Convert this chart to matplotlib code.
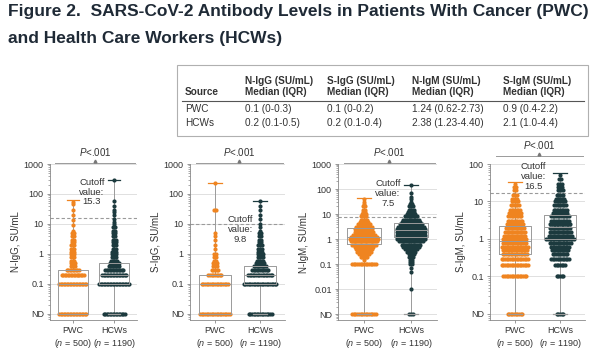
import numpy as np
import matplotlib.pyplot as plt
from matplotlib.patches import Rectangle

plt.rcParams['font.family'] = ['Liberation Sans', 'DejaVu Sans']
plt.rcParams['mathtext.fontset'] = 'custom'
plt.rcParams['mathtext.it'] = 'Liberation Sans:italic'
plt.rcParams['mathtext.rm'] = 'Liberation Sans'

ORANGE = '#ef8420'
DARK = '#1c3a3e'
TXT = '#333333'

groups = ['PWC', 'HCWs']
group_n = [500, 1190]

# swarm rows: value (0 = not detected) and dots in that row
nigg_pwc_vals = [0, 0.1, 0.2, 0.3, 0.4, 0.5, 0.6, 0.8, 1, 1.2, 1.5, 2, 2.5, 3, 4, 5, 6, 9, 14, 20, 30, 45, 56]
nigg_pwc_dots = [19, 19, 16, 9, 4, 4, 3, 3, 3, 3, 3, 3, 2, 2, 2, 2, 1, 1, 1, 1, 1, 1, 1]
nigg_hcw_vals = [0, 0.1, 0.2, 0.3, 0.4, 0.5, 0.6, 0.8, 1, 1.2, 1.5, 2, 2.5, 3, 4, 5, 6, 8, 10, 12, 15, 20, 25, 30, 40, 60, 300]
nigg_hcw_dots = [15, 21, 17, 13, 8, 7, 5, 4, 4, 4, 3, 3, 3, 3, 2, 2, 2, 2, 1, 1, 1, 1, 1, 1, 1, 1, 1]

sigg_pwc_vals = [0, 0.1, 0.2, 0.3, 0.4, 0.5, 0.6, 0.8, 1, 1.5, 2, 3, 4, 5, 30, 230]
sigg_pwc_dots = [19, 17, 9, 5, 3, 3, 2, 2, 2, 1, 1, 1, 1, 1, 2, 1]
sigg_hcw_vals = [0, 0.1, 0.2, 0.3, 0.4, 0.5, 0.6, 0.8, 1, 1.2, 1.5, 2, 2.5, 3, 4, 5, 6, 8, 10, 15, 20, 30, 40, 60]
sigg_hcw_dots = [15, 21, 16, 11, 8, 6, 5, 4, 4, 3, 3, 3, 2, 2, 2, 2, 1, 1, 1, 1, 1, 1, 1, 1]

nigm_pwc_vals = [0, 0.1, 0.15, 0.2, 0.25, 0.3, 0.4, 0.5, 0.6, 0.8, 1, 1.2, 1.5, 2, 2.5, 3, 4, 5, 6, 8, 10, 12, 15, 20, 25, 30, 40]
nigm_pwc_dots = [15, 15, 1, 5, 7, 9, 10, 12, 15, 16, 17, 16, 14, 12, 11, 10, 8, 6, 5, 4, 3, 2, 2, 2, 1, 1, 1]
nigm_hcw_vals = [0, 0.01, 0.05, 0.07, 0.1, 0.12, 0.15, 0.2, 0.25, 0.3, 0.4, 0.5, 0.6, 0.8, 1, 1.2, 1.5, 2, 2.5, 3, 4, 5, 6, 8, 10, 12, 15, 20, 25, 30, 40, 50, 70, 140]
nigm_hcw_dots = [3, 1, 1, 1, 2, 2, 2, 3, 4, 6, 8, 10, 12, 15, 17, 18, 18, 18, 17, 16, 14, 12, 10, 8, 6, 5, 4, 3, 2, 1, 1, 1, 1, 1]

sigm_pwc_vals = [0, 0.1, 0.2, 0.3, 0.4, 0.5, 0.6, 0.8, 1, 1.2, 1.5, 2, 2.5, 3, 4, 5, 6, 8, 10, 12, 15, 20, 25, 30]
sigm_pwc_dots = [10, 15, 17, 17, 16, 16, 17, 15, 15, 14, 13, 12, 11, 10, 9, 8, 7, 6, 5, 4, 3, 2, 2, 1]
sigm_hcw_vals = [0, 0.1, 0.2, 0.3, 0.4, 0.5, 0.6, 0.8, 1, 1.2, 1.5, 2, 2.5, 3, 4, 5, 6, 8, 10, 12, 15, 20, 25, 30, 40, 50]
sigm_hcw_dots = [5, 5, 7, 12, 10, 11, 12, 14, 18, 15, 14, 13, 13, 12, 12, 10, 9, 8, 7, 6, 5, 4, 3, 3, 2, 1]

# medians / IQR from the table, maxima read from whisker caps (0 = ND)
medians = [[0.1, 0.2], [0.1, 0.2], [1.24, 2.38], [0.9, 2.1]]
q1s = [[0, 0.1], [0, 0.1], [0.62, 1.23], [0.4, 1.0]]
q3s = [[0.3, 0.5], [0.2, 0.4], [2.73, 4.40], [2.2, 4.4]]
maxima = [[65, 300], [230, 60], [45, 140], [33, 57]]
cutoffs = [15.3, 9.8, 7.5, 16.5]
ylabels = ['N-IgG, SU/mL', 'S-IgG, SU/mL', 'N-IgM, SU/mL', 'S-IgM, SU/mL']

table_cols = ['N-IgG (SU/mL)', 'S-IgG (SU/mL)', 'N-IgM (SU/mL)', 'S-IgM (SU/mL)']
table_pwc = ['0.1 (0-0.3)', '0.1 (0-0.2)', '1.24 (0.62-2.73)', '0.9 (0.4-2.2)']
table_hcw = ['0.2 (0.1-0.5)', '0.2 (0.1-0.4)', '2.38 (1.23-4.40)', '2.1 (1.0-4.4)']

swarms = [
    [(nigg_pwc_vals, nigg_pwc_dots), (nigg_hcw_vals, nigg_hcw_dots)],
    [(sigg_pwc_vals, sigg_pwc_dots), (sigg_hcw_vals, sigg_hcw_dots)],
    [(nigm_pwc_vals, nigm_pwc_dots), (nigm_hcw_vals, nigm_hcw_dots)],
    [(sigm_pwc_vals, sigm_pwc_dots), (sigm_hcw_vals, sigm_hcw_dots)],
]

W, H = 600, 355
fig = plt.figure(figsize=(6, 3.55), dpi=100)

def fx(x):
    return x / W

def fy(y):
    return 1 - y / H

# title
fig.text(fx(8), fy(11.5), 'Figure 2.  SARS-CoV-2 Antibody Levels in Patients With Cancer (PWC)',
         fontsize=12.5, weight='bold', color='#1f2a36', va='center',
         family=['Liberation Sans Narrow', 'Liberation Sans'])
fig.text(fx(8), fy(38.5), 'and Health Care Workers (HCWs)',
         fontsize=12.5, weight='bold', color='#1f2a36', va='center',
         family=['Liberation Sans Narrow', 'Liberation Sans'])

# summary table
TFS = 7.2
fig.patches.append(Rectangle((fx(177), fy(136)), fx(588 - 177), (136 - 65) / H,
                             transform=fig.transFigure, fill=False, ec='#b0b0b0', lw=0.8))
fig.add_artist(plt.Line2D([fx(182), fx(584)], [fy(101), fy(101)], transform=fig.transFigure,
                          color='#555555', lw=0.8))
col_x = [245, 327, 412, 503]
fig.text(fx(185), fy(92), 'Source', fontsize=TFS, weight='bold', color=TXT, va='center')
fig.text(fx(185), fy(109), 'PWC', fontsize=TFS, color=TXT, va='center')
fig.text(fx(185), fy(123), 'HCWs', fontsize=TFS, color=TXT, va='center')
for x, c, a, b in zip(col_x, table_cols, table_pwc, table_hcw):
    fig.text(fx(x), fy(81), c, fontsize=TFS, weight='bold', color=TXT, va='center')
    fig.text(fx(x), fy(92), 'Median (IQR)', fontsize=TFS, weight='bold', color=TXT, va='center')
    fig.text(fx(x), fy(109), a, fontsize=TFS, color=TXT, va='center')
    fig.text(fx(x), fy(123), b, fontsize=TFS, color=TXT, va='center')

# panels
lefts = [50, 190, 338, 490]
widths = [87, 95, 99, 95]
nds = [0.01, 0.01, 0.001, 0.01]
ylims = [(0.0063, 1000), (0.0063, 1000), (0.00058, 1000), (0.0069, 100)]
tops = [1000, 1000, 1000, 100]
cut_xy = [(0.48, 0.82), (0.53, 0.58), (0.505, 0.81), (0.46, 0.92)]
bracket_y = [1.005, 1.005, 1.005, 1.05]
step = 0.036
colors = [ORANGE, DARK]

for i in range(4):
    ax = fig.add_axes([fx(lefts[i]), fy(320), fx(widths[i]), 156 / H])
    nd = nds[i]
    ax.set_yscale('log')
    ax.set_ylim(*ylims[i])
    ax.set_xlim(0.45, 2.55)

    def pos(v):
        return nd if v == 0 else v

    # swarm rows
    for j, (vals, dots) in enumerate(swarms[i]):
        for v, k in zip(vals, dots):
            xs = j + 1 + (np.arange(k) - (k - 1) / 2) * step
            ax.plot(xs, np.full(k, pos(v)), 'o', ms=3.0, mec='none', color=colors[j], zorder=3)

    # boxes
    stats = []
    for j in range(2):
        stats.append(dict(med=pos(medians[i][j]), q1=pos(q1s[i][j]), q3=pos(q3s[i][j]),
                          whislo=nd, whishi=maxima[i][j]))
    bp = ax.bxp(stats, positions=[1, 2], widths=0.72, showfliers=False, capwidths=0.3,
                boxprops=dict(color='#9a9a9a', lw=0.7),
                medianprops=dict(color='#9a9a9a', lw=0.7),
                whiskerprops=dict(color='#9a9a9a', lw=0.7),
                capprops=dict(color='#9a9a9a', lw=0.9), zorder=4)
    for j in range(2):
        bp['caps'][2 * j + 1].set_color(colors[j])
        bp['whiskers'][2 * j].set_zorder(2)
        bp['whiskers'][2 * j + 1].set_zorder(2)

    # cutoff
    ax.axhline(cutoffs[i], color='#9a9a9a', lw=0.8, ls=(0, (3, 2)), zorder=1)
    ax.text(cut_xy[i][0], cut_xy[i][1], f'Cutoff\nvalue:\n{cutoffs[i]}', transform=ax.transAxes,
            ha='center', va='center', fontsize=6.8, color=TXT, linespacing=1.1, zorder=5)

    # axes styling
    ticks = [nd] + [10.0 ** e for e in range(int(np.log10(nd)) + 1, int(np.log10(tops[i])) + 1)]
    labels = ['ND'] + [f'{t:g}' for t in ticks[1:]]
    ax.set_yticks(ticks)
    ax.set_yticklabels(labels)
    ax.grid(axis='y', which='major', color='#dadada', lw=0.6, zorder=0)
    ax.set_axisbelow(True)
    ax.set_xticks([1, 2])
    ax.set_xticklabels([f'{g}\n($n$ = {n})' for g, n in zip(groups, group_n)])
    ax.tick_params(axis='both', which='major', labelsize=6.5, colors='#888888', labelcolor=TXT,
                   length=2.5, width=0.6, pad=2)
    ax.tick_params(axis='y', which='minor', colors='#888888', length=1.5, width=0.5)
    ax.set_ylabel(ylabels[i], fontsize=7, color=TXT, labelpad=2)
    for s in ['top', 'right']:
        ax.spines[s].set_visible(False)
    for s in ['left', 'bottom']:
        ax.spines[s].set_color('#888888')
        ax.spines[s].set_linewidth(0.6)

    # significance bracket
    by = bracket_y[i]
    ax.plot([0.06, 0.98], [by, by], transform=ax.transAxes, color='#9a9a9a', lw=0.7, clip_on=False)
    ax.plot([0.52], [by + 0.012], transform=ax.transAxes, marker='^', ms=2, color='#777777', clip_on=False)
    ax.text(0.52, by + 0.07, r'$P$<.001', transform=ax.transAxes, ha='center', va='center',
            fontsize=7, color=TXT)

fig.savefig('out.png', dpi=100)
